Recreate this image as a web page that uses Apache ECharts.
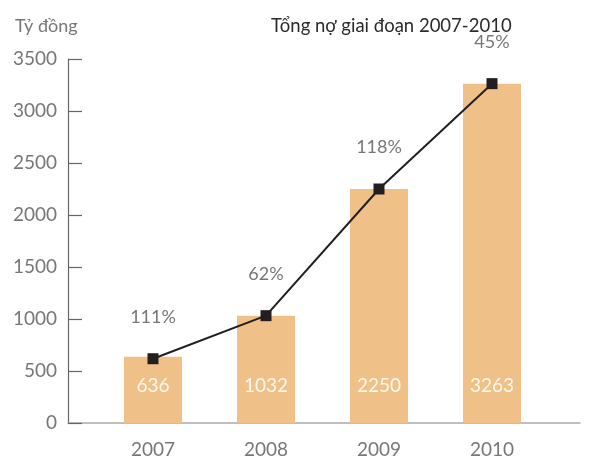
<!DOCTYPE html>
<html>
<head>
<meta charset="utf-8">
<script src="https://cdn.jsdelivr.net/npm/echarts@6/dist/echarts.min.js"></script>
<style>
  html, body { margin: 0; padding: 0; background: #fff; }
  #chart { width: 592px; height: 459px; }
</style>
</head>
<body>
<div id="chart"></div>
<script>
const years = [2007, 2008, 2009, 2010];
const debtValues = [636, 1032, 2250, 3263];
const lineValues = [618, 1032, 2250, 3263];
const growthLabels = ['111%', '62%', '118%', '45%'];

const font = 'Lato, "Noto Sans", sans-serif';
const grey = '#777';

const chart = echarts.init(document.getElementById('chart'));

const option = {
  animation: false,
  textStyle: { fontFamily: font },
  title: [
    {
      text: 'Tỷ đồng',
      left: 10,
      top: 12,
      textStyle: { fontFamily: font, fontSize: 18, fontWeight: 'normal', color: grey }
    },
    {
      text: 'Tổng nợ giai đoạn 2007-2010',
      left: 266,
      top: 12,
      textStyle: { fontFamily: font, fontSize: 18.5, fontWeight: 'normal', color: '#2b2b2b' }
    }
  ],
  grid: { left: 68, right: 12, top: 59, bottom: 36, containLabel: false },
  xAxis: {
    type: 'value',
    min: 2007 - 85 / 113,
    max: 2007 - 85 / 113 + 512 / 113,
    splitLine: { show: false },
    axisLine: { show: true, lineStyle: { color: '#aaa', width: 1.5 } },
    axisTick: { show: false },
    axisLabel: {
      customValues: years,
      formatter: v => String(v),
      fontFamily: font,
      fontSize: 19,
      color: grey,
      margin: 17
    }
  },
  yAxis: {
    type: 'value',
    min: 0,
    max: 3500,
    interval: 500,
    splitLine: { show: false },
    axisLine: { show: true, lineStyle: { color: '#666', width: 1.2 } },
    axisTick: { show: true, inside: true, length: 14, lineStyle: { color: '#666', width: 1.2 } },
    axisLabel: { formatter: v => String(v), fontFamily: font, fontSize: 19, color: grey, margin: 11 }
  },
  series: [
    {
      type: 'bar',
      barWidth: 58,
      itemStyle: { color: '#efc189' },
      data: years.map((y, i) => [y, debtValues[i]]),
      label: {
        show: true,
        position: 'insideBottom',
        distance: 28,
        formatter: p => String(p.value[1]),
        fontFamily: font,
        fontSize: 19,
        color: '#fff8ee'
      },
      z: 1
    },
    {
      type: 'line',
      symbol: 'rect',
      symbolSize: 11,
      lineStyle: { color: '#231f20', width: 2 },
      itemStyle: { color: '#231f20' },
      data: years.map((y, i) => [y, lineValues[i]]),
      label: {
        show: true,
        position: 'top',
        distance: 27,
        formatter: p => growthLabels[p.dataIndex],
        fontFamily: font,
        fontSize: 18,
        color: grey
      },
      z: 3
    }
  ]
};

chart.setOption(option);
</script>
</body>
</html>
